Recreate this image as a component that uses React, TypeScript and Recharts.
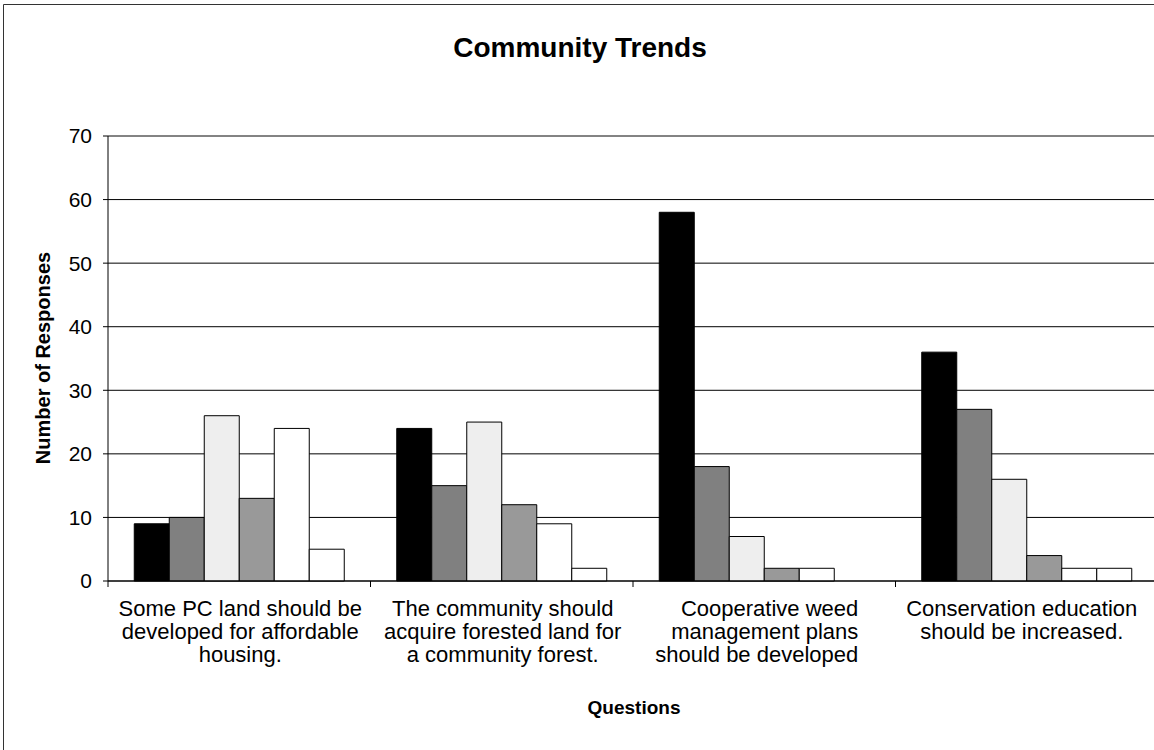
import React from 'react';
import { BarChart, Bar, XAxis, YAxis, CartesianGrid, ReferenceLine } from 'recharts';

const questions = [
  'Some PC land should be developed for affordable housing.',
  'The community should acquire forested land for a community forest.',
  'Cooperative weed management plans should be developed',
  'Conservation education should be increased.',
];

// wrapped the way the original chart wraps them
const questionLines = [
  ['Some PC land should be', 'developed for affordable', 'housing.'],
  ['The community should', 'acquire forested land for', 'a community forest.'],
  ['Cooperative weed', 'management plans', 'should be developed'],
  ['Conservation education', 'should be increased.'],
];

const series1 = [9, 24, 58, 36];
const series2 = [10, 15, 18, 27];
const series3 = [26, 25, 7, 16];
const series4 = [13, 12, 2, 4];
const series5 = [24, 9, 2, 2];
const series6 = [5, 2, 0, 2];

const yTicks = [0, 10, 20, 30, 40, 50, 60, 70];

const seriesKeys = ['s1', 's2', 's3', 's4', 's5', 's6'];
const seriesFills = ['#000000', '#808080', '#eeeeee', '#999999', '#ffffff', '#ffffff'];

const data = questions.map((q, i) => ({
  q,
  s1: series1[i],
  s2: series2[i],
  s3: series3[i],
  s4: series4[i],
  s5: series5[i],
  s6: series6[i],
}));

const FONT = '"Liberation Sans", Arial, Helvetica, sans-serif';
const CHART_W = 1200;
const CHART_H = 800;
const MARGIN = { top: 136, right: 42, bottom: 99, left: 48 };
const Y_AXIS_W = 60;
const BAND = (CHART_W - MARGIN.left - MARGIN.right - Y_AXIS_W) / questions.length;

// per-label horizontal nudge / alignment, as in the source image
const labelAlign = [
  { dx: 1, anchor: 'middle' },
  { dx: 1, anchor: 'middle' },
  { dx: 94, anchor: 'end' },
  { dx: -5, anchor: 'middle' },
];

const QuestionTick = (props: any) => {
  const { x, y, index } = props;
  const lines = questionLines[index] || [props.payload?.value];
  const al = labelAlign[index] || { dx: 0, anchor: 'middle' };
  return (
    <g>
      {index === 0 && (
        <line x1={x - BAND / 2} y1={y} x2={x - BAND / 2} y2={y + 6} stroke="#000" />
      )}
      <line x1={x + BAND / 2} y1={y} x2={x + BAND / 2} y2={y + 6} stroke="#000" />
      <text
        textAnchor={al.anchor}
        fontFamily={FONT}
        fontSize={22}
        fill="#000"
      >
        {lines.map((l: string, i: number) => (
          <tspan key={i} x={x + al.dx} y={y + 35 + i * 23}>
            {l}
          </tspan>
        ))}
      </text>
    </g>
  );
};

export default function App() {
  return (
    <div
      style={{
        position: 'absolute',
        left: 0,
        top: 0,
        width: 1154,
        height: 750,
        overflow: 'hidden',
        background: '#fff',
      }}
    >
      <BarChart
        width={CHART_W}
        height={CHART_H}
        data={data}
        margin={MARGIN}
        barCategoryGap="10%"
        barGap={0}
      >
        <CartesianGrid vertical={false} stroke="#000" />
        <XAxis
          dataKey="q"
          height={120}
          axisLine={{ stroke: '#000' }}
          tickLine={false}
          tickSize={0}
          tickMargin={0}
          interval={0}
          tick={<QuestionTick />}
        />
        <YAxis
          width={Y_AXIS_W}
          domain={[0, 70]}
          ticks={yTicks}
          interval={0}
          axisLine={{ stroke: '#000' }}
          tickLine={{ stroke: '#000' }}
          tickSize={5}
          tickMargin={11}
          tick={{ fill: '#000', fontSize: 21, fontFamily: FONT }}
        />
        <ReferenceLine y={70} stroke="#888" />
        {seriesKeys.map((k, i) => (
          <Bar
            key={k}
            dataKey={k}
            fill={seriesFills[i]}
            stroke="#000"
            strokeWidth={1}
            isAnimationActive={false}
          />
        ))}
      </BarChart>
      <svg
        width={1154}
        height={750}
        style={{ position: 'absolute', left: 0, top: 0, pointerEvents: 'none' }}
      >
        <path d="M3.5,750 L3.5,4.5 L1154,4.5" fill="none" stroke="#333" />
        <text x={580} y={57} textAnchor="middle" fontFamily={FONT} fontSize={28} fontWeight="bold">
          Community Trends
        </text>
        <text
          x={43}
          y={358}
          dy="0.35em"
          textAnchor="middle"
          fontFamily={FONT}
          fontSize={20}
          fontWeight="bold"
          transform="rotate(-90, 43, 358)"
        >
          Number of Responses
        </text>
        <text x={634} y={714} textAnchor="middle" fontFamily={FONT} fontSize={19} fontWeight="bold">
          Questions
        </text>
      </svg>
    </div>
  );
}
